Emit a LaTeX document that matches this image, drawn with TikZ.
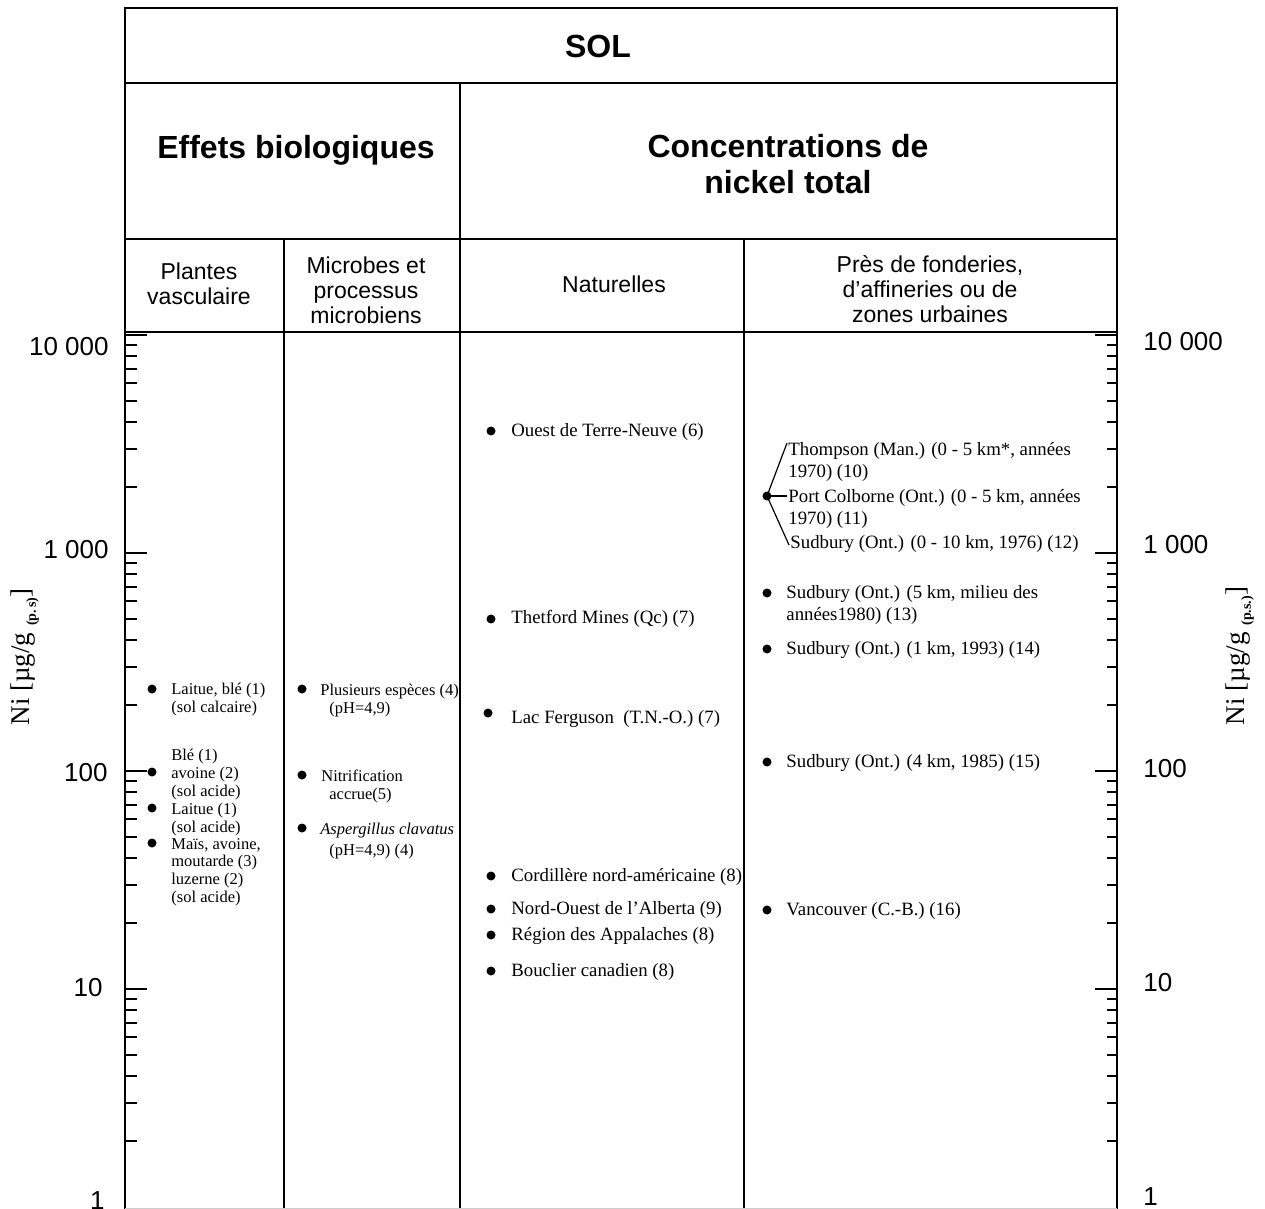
\documentclass[tikz,border=0pt]{standalone}
\usepackage{fontspec}
\setmainfont{Liberation Serif}
\setsansfont{Liberation Sans}
\usepackage{tikz}
\tikzstyle{frame} = [line width=1.25pt]
\tikzstyle{tick} = [line width=1pt]
\tikzstyle{branch} = [line width=0.6pt]
\tikzstyle{head} = [font=\sffamily\bfseries\fontsize{16}{18}\selectfont, align=center]
\tikzstyle{subhead} = [font=\sffamily\fontsize{11.5}{12.5}\selectfont, align=center]
\tikzstyle{axnum} = [font=\sffamily\fontsize{13}{15}\selectfont, inner sep=0pt]
\tikzstyle{axtitle} = [font=\fontsize{13.5}{15}\selectfont, rotate=90, inner sep=0pt]
\tikzstyle{bullet} = [circle, fill=black, inner sep=0pt, minimum size=4.5pt]
\tikzstyle{smalltext} = [font=\fontsize{8.25}{8.8}\selectfont, align=left, anchor=base west, inner sep=0pt]
\tikzstyle{datatext} = [font=\fontsize{9.4}{11}\selectfont, align=left, anchor=base west, inner sep=0pt]

\begin{document}
\begin{tikzpicture}[x=0.5pt,y=-0.5pt]
	\useasboundingbox (0,0) rectangle (1265,1209);

	\draw [frame] (125,1209) -- (125,8) -- (1117,8) -- (1117,1209);
	\draw [frame] (125,83) -- (1117,83);
	\draw [frame] (125,239) -- (1117,239);
	\draw [frame] (125,332) -- (1117,332);
	\draw [frame] (460,83) -- (460,1209);
	\draw [frame] (284,239) -- (284,1209);
	\draw [frame] (744,239) -- (744,1209);
	\draw [gray!40, line width=0.5pt] (125,1208) -- (1117,1208);

	\node (sol) [head] at (598,46) {SOL};
	\node (effets) [head] at (296,150) {Effets biologiques};
	\node (conc) [head] at (788,164) {Concentrations de\\nickel total};
	\node (plantes) [subhead] at (199,284) {Plantes\\vasculaire};
	\node (microbes) [subhead] at (366,290) {Microbes et\\processus\\microbiens};
	\node (naturelles) [subhead] at (614,284) {Naturelles};
	\node (fonderies) [subhead] at (930,289) {Près de fonderies,\\d’affineries ou de\\zones urbaines};

	\foreach \d in {1,...,4} {
		\pgfmathsetmacro\ty{1207-218*\d}
		\draw [tick] (125,\ty) -- (147,\ty);
		\draw [tick] (1117,\ty) -- (1095,\ty);
	}
	\foreach \d in {0,...,3} {
		\foreach \m in {2,...,9} {
			\pgfmathsetmacro\ty{1207-218*(\d+log10(\m))}
			\draw [tick] (125,\ty) -- (137,\ty);
			\draw [tick] (1117,\ty) -- (1107,\ty);
		}
	}

	\foreach \lx/\ly/\lab [count=\i] in {109/347/{10 000}, 109/550/{1 000}, 108/773/100, 103/988/10, 105/1201/1}
		\node (numL\i) [axnum, anchor=east] at (\lx,\ly) {\lab};
	\foreach \ly/\lab [count=\i] in {342/{10 000}, 545/{1 000}, 769/100, 983/10, 1197/1}
		\node (numR\i) [axnum, anchor=west] at (1143,\ly) {\lab};

	\node (titleL) [axtitle] at (25,657) {Ni [µg/g \raisebox{-0.5ex}{\fontsize{7}{8}\selectfont\bfseries (p.\,s)}]};
	\node (titleR) [axtitle] at (1240,656) {Ni [µg/g \raisebox{-0.5ex}{\fontsize{7}{8}\selectfont\bfseries (p.s.)}]};

	\node (p1) [bullet] at (152,689) {};
	\node (p1t) [smalltext] at (171,712) {Laitue, blé (1)\\(sol calcaire)};
	\node (p2) [bullet] at (152,772) {};
	\node (p2t) [smalltext] at (171,796) {Blé (1)\\avoine (2)\\(sol acide)};
	\node (p3) [bullet] at (152,808) {};
	\node (p3t) [smalltext] at (171,832) {Laitue (1)\\(sol acide)};
	\node (p4) [bullet] at (152,843) {};
	\node (p4t) [smalltext] at (171,902) {Maïs, avoine,\\moutarde (3)\\luzerne (2)\\(sol acide)};

	\node (m1) [bullet] at (302,689) {};
	\node (m1t) [smalltext] at (320,713) {Plusieurs espèces (4)\\\hspace*{4.5pt}(pH=4,9)};
	\node (m2) [bullet] at (302,775) {};
	\node (m2t) [smalltext] at (321,799) {Nitrification\\\hspace*{4pt}accrue(5)};
	\node (m3) [bullet] at (302,828) {};
	\node (m3t) [smalltext] at (320,855) {\textit{Aspergillus clavatus}\\[1.5pt]\hspace*{4.5pt}(pH=4,9) (4)};

	\node (n1) [bullet] at (491,431) {};
	\node (n1t) [datatext] at (511,437) {Ouest de Terre-Neuve (6)};
	\node (n2) [bullet] at (491,619) {};
	\node (n2t) [datatext] at (511,623) {Thetford Mines (Qc) (7)};
	\node (n3) [bullet] at (488,713) {};
	\node (n3t) [datatext] at (511,723) {Lac Ferguson\ \ (T.N.-O.) (7)};
	\node (n4) [bullet] at (491,876) {};
	\node (n4t) [datatext] at (511,881) {Cordillère nord-américaine (8)};
	\node (n5) [bullet] at (491,909) {};
	\node (n5t) [datatext] at (511,914) {Nord-Ouest de l’Alberta (9)};
	\node (n6) [bullet] at (491,935) {};
	\node (n6t) [datatext] at (511,940) {Région des Appalaches (8)};
	\node (n7) [bullet] at (491,971) {};
	\node (n7t) [datatext] at (511,976) {Bouclier canadien (8)};

	\node (grp) [bullet] at (767,496) {};
	\node (f1t) [datatext] at (788,478) {Thompson (Man.) (0 - 5 km*, années\\1970) (10)};
	\node (f2t) [datatext] at (788,524) {Port Colborne (Ont.) (0 - 5 km, années\\1970) (11)};
	\node (f3t) [datatext] at (790,548) {Sudbury (Ont.) (0 - 10 km, 1976) (12)};
	\coordinate (f1e) at (787,443);
	\coordinate (f2e) at (787,496);
	\coordinate (f3e) at (789,545);
	\draw [branch] (grp.center) -- (f1e);
	\draw [branch] (grp.center) -- (f2e);
	\draw [branch] (grp.center) -- (f3e);

	\node (f4) [bullet] at (767,593) {};
	\node (f4t) [datatext] at (786,620) {Sudbury (Ont.) (5 km, milieu des\\années1980) (13)};
	\node (f5) [bullet] at (767,649) {};
	\node (f5t) [datatext] at (786,654) {Sudbury (Ont.) (1 km, 1993) (14)};
	\node (f6) [bullet] at (767,762) {};
	\node (f6t) [datatext] at (786,767) {Sudbury (Ont.) (4 km, 1985) (15)};
	\node (f7) [bullet] at (767,910) {};
	\node (f7t) [datatext] at (786,915) {Vancouver (C.-B.) (16)};

\end{tikzpicture}
\end{document}
